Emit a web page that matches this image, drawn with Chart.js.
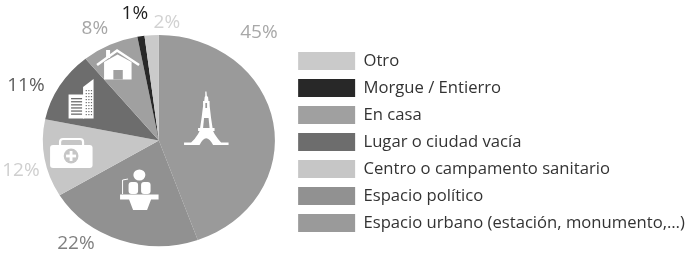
<!DOCTYPE html>
<html>
<head>
<meta charset="utf-8">
<script src="https://cdn.jsdelivr.net/npm/chart.js@4"></script>
<style>
html,body{margin:0;padding:0;background:#fff;}
#wrap{width:689px;height:258px;}
canvas{filter:blur(0.35px);}
</style>
</head>
<body>
<div id="wrap"><canvas id="pieChart"></canvas></div>
<script>
// clockwise from the top, the legend reads them backwards
const categories = ["Espacio urbano (estación, monumento,…)","Espacio político","Centro o campamento sanitario","Lugar o ciudad vacía","En casa","Morgue / Entierro","Otro"];
const values = [45,22,12,11,8,1,2];
const sliceColors = ["#9a9a9a","#919191","#c6c6c6","#6d6d6d","#a0a0a0","#282828","#cacaca"];
const labelColors = ["#a8a8a8","#7f7f7f","#cfcfcf","#5e5e5e","#a6a6a6","#1e1e1e","#d2d2d2"];
// where each % label sits, relative to the pie centre
const labelSpots = [[100,-108],[-83,103.5],[-138,30.5],[-133,-54.5],[-64,-111.5],[-24,-126.5],[8,-117.5]];

const stretchX = 1.1; // the pie in the picture is wider than tall

const ellipsePie = {
  id:"ellipsePie",
  beforeDatasetsDraw(chart){
    const arc = chart.getDatasetMeta(0).data[0];
    const c = chart.ctx;
    c.save();
    c.translate(arc.x,arc.y);
    c.scale(stretchX,1);
    c.translate(-arc.x,-arc.y);
  },
  afterDatasetsDraw(chart){
    chart.ctx.restore();
  }
};

// legend sits a bit lower than the centred position
const legendNudge = {
  id:"legendNudge",
  afterLayout(chart){
    chart.legend.top += 1.5;
    chart.legend.bottom += 1.5;
  }
};

function poly(c,pts){
  c.beginPath();
  pts.forEach((p,i)=> i ? c.lineTo(p[0],p[1]) : c.moveTo(p[0],p[1]));
  c.closePath();
  c.fill();
}

function drawEiffel(c){
  c.fillStyle="#fff";
  poly(c,[[205.2,91.5],[206.4,91.5],[206.8,96],[208,97],[208.4,101],[209.5,101],[209.6,106],[211,118],[212.5,128],[214.5,128],[214.5,131],[213,131],[214.5,134],[218,139],[221,142.5],[228.5,142.5],[228.5,145],[184,145],[184,142.5],[191,142.5],[194.5,139],[198,134],[199.5,131],[198,131],[198,128],[200,128],[201.5,118],[203,106],[203,101],[204.2,101],[204.6,97],[205.2,96]]);
  c.fillStyle=sliceColors[0];
  c.beginPath();
  c.moveTo(199.5,145);
  c.quadraticCurveTo(206,131.5,213,145);
  c.closePath();
  c.fill();
  poly(c,[[204,118],[208.5,118],[209.5,128],[203,128]]);
  poly(c,[[205.3,103],[207,103],[207,108],[205.3,108]]);
}

function drawMedkit(c){
  c.strokeStyle="#fff";
  c.lineWidth=2.2;
  c.beginPath();
  c.roundRect(60,139,23,9,3);
  c.stroke();
  c.fillStyle="#fff";
  c.beginPath();
  c.roundRect(50,145,42.5,23,3);
  c.fill();
  c.fillStyle=sliceColors[2];
  c.beginPath();
  c.arc(71,156,7.4,0,Math.PI*2);
  c.fill();
  c.fillStyle="#fff";
  c.fillRect(69.6,151,2.8,10);
  c.fillRect(66,154.6,10,2.8);
}

function drawLectern(c){
  c.fillStyle="#fff";
  c.beginPath();
  c.ellipse(139.3,175,6,5.5,0,0,Math.PI*2);
  c.fill();
  c.beginPath();
  c.roundRect(128.5,182,9.5,12,3);
  c.roundRect(141,182,9.5,12,3);
  c.fill();
  poly(c,[[120,194.5],[158.5,194.5],[158.5,199.5],[151,199.5],[147,210],[133,210],[129,199.5],[120,199.5]]);
  c.strokeStyle="#fff";
  c.lineWidth=1;
  c.beginPath();
  c.moveTo(122.5,194);
  c.lineTo(122.5,180);
  c.lineTo(128,179);
  c.stroke();
}

function drawBuilding(c){
  c.fillStyle="#fff";
  poly(c,[[83,87],[93.5,79],[93.5,118.5],[83,118.5]]);
  c.fillRect(68.5,94.5,15.5,24);
  c.fillStyle=sliceColors[3];
  for(let i=0;i<6;i++) c.fillRect(71,98+i*3.1,11,1.3);
  for(let row=0;row<9;row++){
    for(let col=0;col<3;col++) c.fillRect(85.6+col*2.6,90+row*3,1.2,1.2);
  }
}

function drawHouse(c){
  c.fillStyle="#fff";
  c.fillRect(106,50,4,8);
  c.strokeStyle="#fff";
  c.lineWidth=2.6;
  c.beginPath();
  c.moveTo(97,65);
  c.lineTo(117,50.5);
  c.lineTo(139,65);
  c.stroke();
  poly(c,[[104,62],[117.5,54.5],[131.5,62],[131.5,79.5],[104,79.5]]);
  c.fillStyle=sliceColors[4];
  c.fillRect(113.3,70,9.4,9.5);
}

const pieExtras = {
  id:"pieExtras",
  afterDraw(chart){
    const c = chart.ctx;
    const arc = chart.getDatasetMeta(0).data[0];
    c.save();
    // icons were measured with the pie centre at 158.8,140.5
    c.save();
    c.translate(arc.x-158.8,arc.y-140.5);
    [drawEiffel,drawLectern,drawMedkit,drawBuilding,drawHouse].forEach(f=>f(c));
    c.restore();
    c.font="19px 'Open Sans'";
    c.textAlign="center";
    c.textBaseline="middle";
    values.forEach((v,i)=>{
      c.fillStyle=labelColors[i];
      c.fillText(v+"%",arc.x+labelSpots[i][0],arc.y+labelSpots[i][1]);
    });
    c.restore();
  }
};

new Chart(document.getElementById("pieChart"),{
  type:"pie",
  data:{
    labels:categories,
    datasets:[{
      data:values,
      backgroundColor:sliceColors,
      borderWidth:0
    }]
  },
  options:{
    responsive:true,
    maintainAspectRatio:false,
    animation:false,
    layout:{padding:{top:35,bottom:12,left:28.6,right:-5.8}},
    plugins:{
      tooltip:{enabled:false},
      legend:{
        position:"right",
        reverse:true,
        maxWidth:430,
        labels:{
          boxWidth:57,
          boxHeight:18,
          padding:9,
          color:"#333",
          font:{family:"'Open Sans'",size:16.65}
        }
      }
    }
  },
  plugins:[ellipsePie,legendNudge,pieExtras]
});
</script>
</body>
</html>
